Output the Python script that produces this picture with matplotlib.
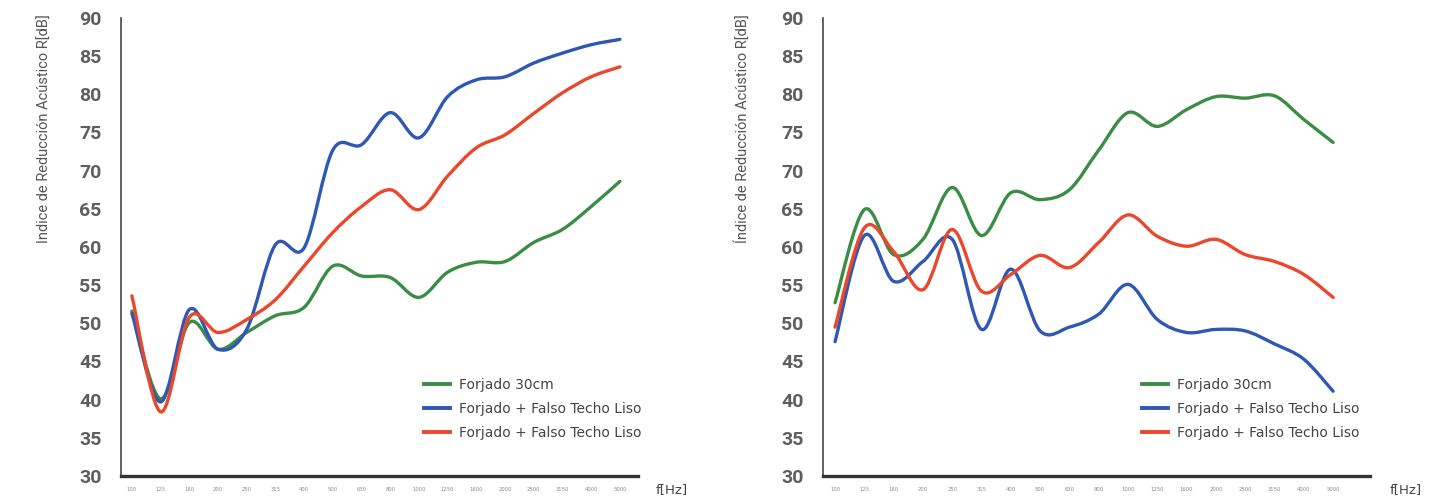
import numpy as np
import matplotlib
matplotlib.use("Agg")
import matplotlib.pyplot as plt
from matplotlib.path import Path
from matplotlib.patches import PathPatch
from matplotlib.lines import Line2D

# bandas de tercio de octava
freqs = ["100", "125", "160", "200", "250", "315", "400", "500", "630", "800",
         "1000", "1250", "1600", "2000", "2500", "3150", "4000", "5000"]

# grafico izquierdo
left_forjado = [51.6, 40.1, 50.1, 46.6, 48.8, 51.0, 52.1, 57.5, 56.2, 56.0,
                53.4, 56.7, 58.0, 58.1, 60.6, 62.3, 65.3, 68.6]
left_techo_a = [51.3, 39.7, 51.8, 46.6, 49.2, 60.3, 59.9, 72.7, 73.4, 77.6,
                74.3, 79.7, 81.9, 82.3, 84.1, 85.4, 86.5, 87.2]
left_techo_b = [53.6, 38.4, 50.8, 48.8, 50.5, 53.1, 57.5, 61.9, 65.3, 67.5,
                64.9, 69.3, 73.0, 74.7, 77.5, 80.2, 82.3, 83.6]

# grafico derecho
right_forjado = [52.7, 64.9, 59.0, 61.0, 67.8, 61.5, 67.1, 66.2, 67.5, 72.7,
                 77.6, 75.8, 78.0, 79.7, 79.5, 79.8, 76.7, 73.7]
right_techo_a = [47.6, 61.5, 55.5, 58.1, 61.0, 49.2, 57.1, 49.0, 49.5, 51.2,
                 55.1, 50.5, 48.8, 49.2, 49.0, 47.3, 45.3, 41.1]
right_techo_b = [49.5, 62.5, 59.4, 54.4, 62.3, 54.2, 56.4, 58.9, 57.3, 60.6,
                 64.2, 61.4, 60.1, 61.0, 59.0, 58.1, 56.4, 53.4]

labels = ["Forjado 30cm", "Forjado + Falso Techo Liso", "Forjado + Falso Techo Liso"]
colors = ["#3b8d43", "#2f57b4", "#e9482c"]

TICK_GRAY = "#5e5e5e"


def smooth_path(x, y):
    """Curva suavizada tipo Catmull-Rom (como las lineas suavizadas de Excel)."""
    pts = np.column_stack([x, y]).astype(float)
    n = len(pts)
    verts = [pts[0]]
    codes = [Path.MOVETO]
    for i in range(n - 1):
        p0 = pts[max(i - 1, 0)]
        p1 = pts[i]
        p2 = pts[i + 1]
        p3 = pts[min(i + 2, n - 1)]
        c1 = p1 + (p2 - p0) / 6.0
        c2 = p2 - (p3 - p1) / 6.0
        verts += [c1, c2, p2]
        codes += [Path.CURVE4] * 3
    return Path(verts, codes)


def draw_panel(ax, series, xlim, ylabel, leg_anchor):
    x = np.arange(len(freqs))
    for vals, c in zip(series, colors):
        patch = PathPatch(smooth_path(x, vals), fill=False, edgecolor=c, lw=2.4,
                          capstyle="round", joinstyle="round")
        ax.add_patch(patch)
    ax.set_xlim(*xlim)
    ax.set_ylim(30, 90)
    ax.set_yticks(range(30, 91, 5))
    ax.set_xticks(x)
    ax.set_xticklabels(freqs, fontsize=3.8, color="#8a8a8a")
    ax.tick_params(axis="both", length=0)
    ax.tick_params(axis="y", labelsize=14, labelcolor=TICK_GRAY, pad=14)
    ax.tick_params(axis="x", pad=8)
    for lab in ax.get_yticklabels():
        lab.set_fontfamily("Roboto")
        lab.set_fontweight("semibold")
    for s in ("top", "right"):
        ax.spines[s].set_visible(False)
    ax.spines["left"].set_color("#555555")
    ax.spines["left"].set_linewidth(1.3)
    ax.spines["bottom"].set_color("#333333")
    ax.spines["bottom"].set_linewidth(2.4)

    ax.text(1.035, -0.03, "f[Hz]", transform=ax.transAxes, ha="left",
            va="center", fontsize=9.5, color="#444444")
    ax.text(-0.148, 1.008, ylabel, transform=ax.transAxes, rotation=90,
            ha="center", va="top", fontsize=10.5, color="#555555",
            family="Roboto")

    handles = [Line2D([], [], color=c, lw=2.8) for c in colors]
    ax.legend(handles, labels, loc="upper left", bbox_to_anchor=leg_anchor,
              frameon=False, fontsize=10, handlelength=1.9, handletextpad=0.6,
              labelspacing=0.72, labelcolor="#444444")


fig = plt.figure(figsize=(14.49, 4.97), dpi=100)
ax1 = fig.add_axes([0.0835, 0.0423, 0.3568, 0.9215])
ax2 = fig.add_axes([0.568, 0.0423, 0.3775, 0.9215])

draw_panel(ax1, [left_forjado, left_techo_a, left_techo_b], (-0.38, 17.63),
           "Indice de Reducción Acústico R[dB]", (0.562, 0.241))
draw_panel(ax2, [right_forjado, right_techo_a, right_techo_b], (-0.41, 18.26),
           "Índice de Reducción Acústico R[dB]", (0.56, 0.241))

fig.savefig("out.png", dpi=100)
